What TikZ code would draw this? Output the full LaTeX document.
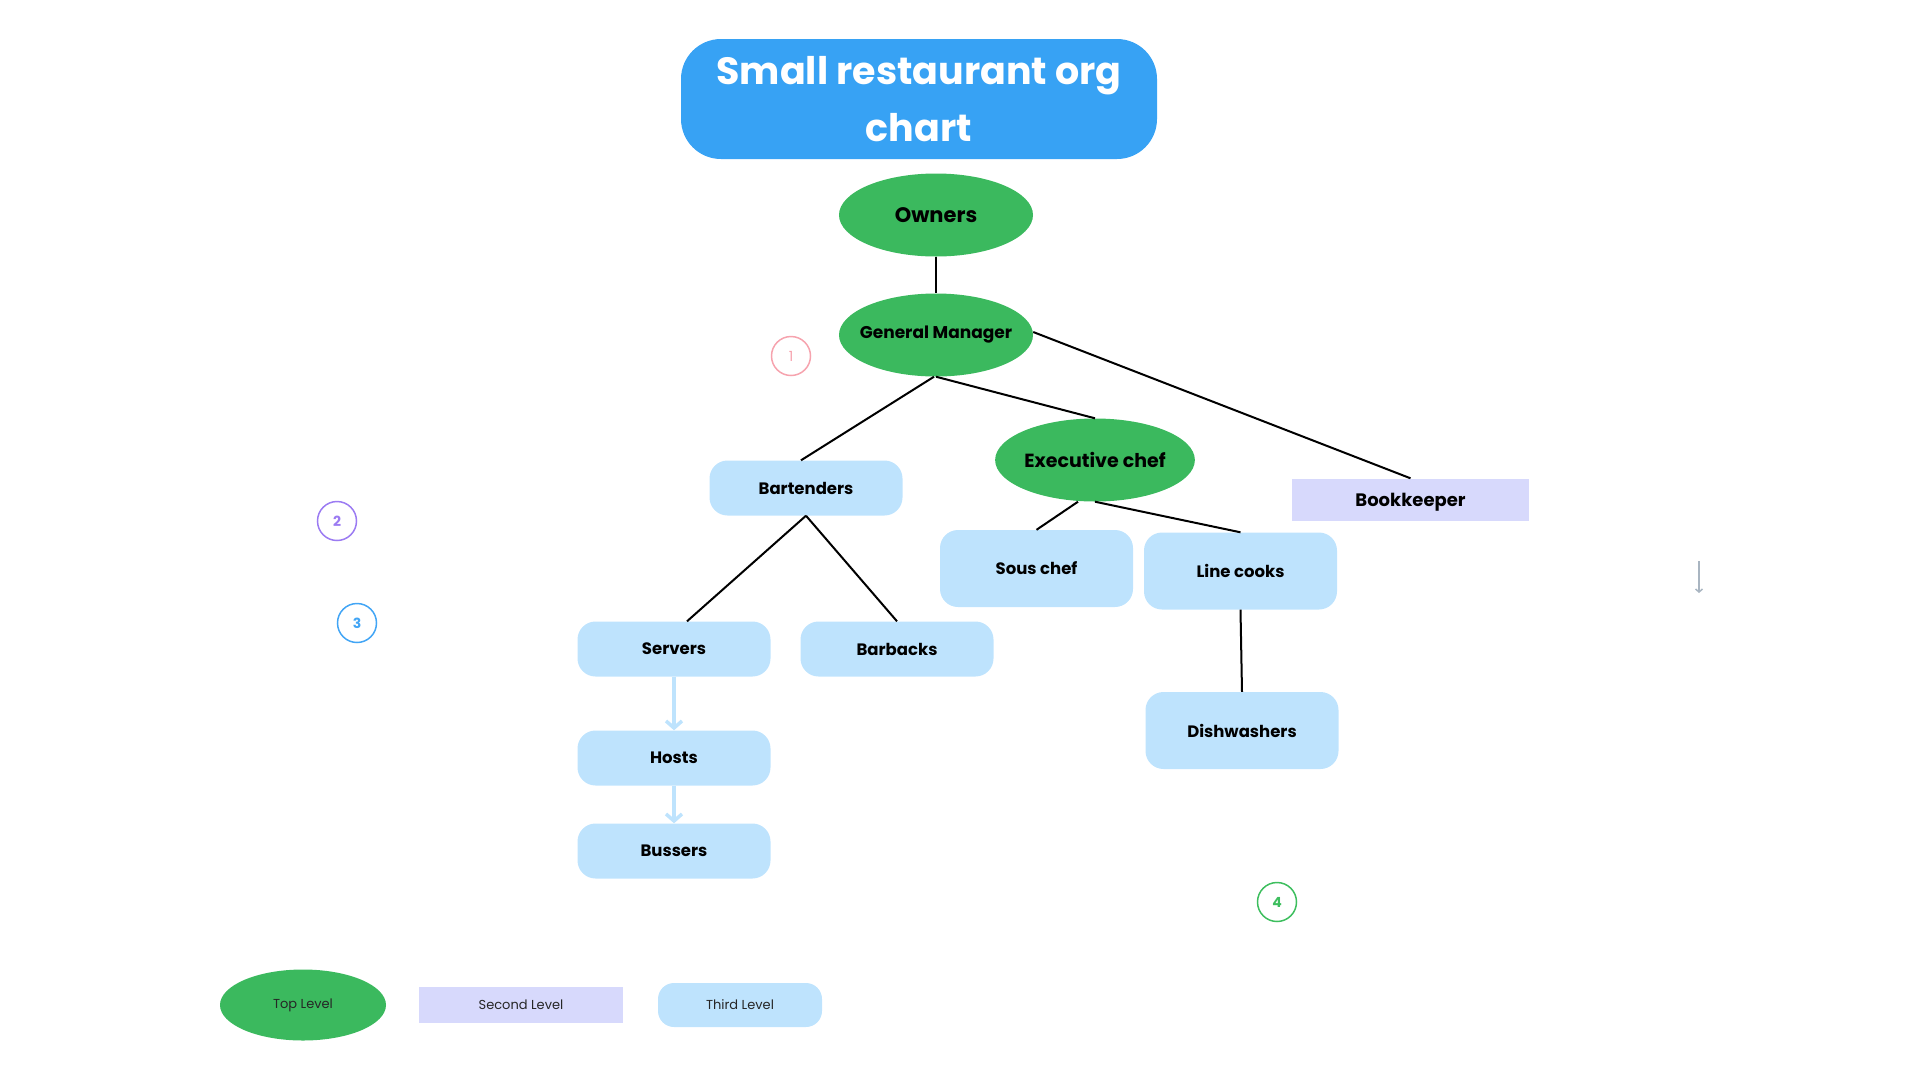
\documentclass[tikz,border=0pt]{standalone}
\usepackage{fontspec}
\setmainfont{Poppins}
\usetikzlibrary{shapes.geometric,arrows.meta}
\definecolor{topgreen}{HTML}{3BB95E}
\definecolor{lightblue}{HTML}{BEE3FD}
\definecolor{lavender}{HTML}{D7D9FC}
\definecolor{titleblue}{HTML}{37A2F4}
\definecolor{cpink}{HTML}{F6A3AE}
\definecolor{cpurple}{HTML}{9B7BF2}
\definecolor{cblue}{HTML}{42A5F5}
\definecolor{cgreen}{HTML}{3DBE5E}
\definecolor{arrowgray}{HTML}{A9B5C1}
\tikzset{
  toplvl/.style={ellipse, fill=topgreen, inner sep=0pt, minimum width=194pt, minimum height=83pt, font=\fontsize{19}{22}\selectfont\bfseries},
  thirdlvl/.style={rectangle, rounded corners=18pt, fill=lightblue, inner sep=0pt, minimum width=193pt, font=\fontsize{16.5}{20}\selectfont\bfseries},
  secondlvl/.style={rectangle, fill=lavender, inner sep=0pt, font=\fontsize{18}{21}\selectfont\bfseries},
  conn/.style={line width=2pt, black},
  flow/.style={line width=3.5pt, lightblue, -{Straight Barb[length=7pt,width=16pt,line width=3.5pt]}},
  numcirc/.style={circle, draw=#1, line width=1.5pt, text=#1, minimum size=39pt, inner sep=0pt, font=\fontsize{14}{16}\selectfont},
  legtext/.style={font=\fontsize{13}{15}\selectfont, text=black!85}
}
\begin{document}
\begin{tikzpicture}[x=1pt,y=-1pt]
\useasboundingbox (0,0) rectangle (1920,1080);
% title
\node[rectangle, rounded corners=40pt, fill=titleblue, minimum width=476pt, minimum height=120pt, inner sep=0pt, text=white, align=center, font=\fontsize{38}{57}\selectfont\bfseries] (title) at (919,99) {Small restaurant org\\chart};
% top level
\node[toplvl, font=\fontsize{21}{24}\selectfont\bfseries] (owners) at (936,215) {Owners};
\node[toplvl, inner xsep=-20pt, font=\fontsize{17}{20}\selectfont\bfseries] (gm) at (936,335) {General Manager};
\node[toplvl] (exec) at (1095,460) {Executive chef};
% second level
\node[secondlvl, minimum width=237pt, minimum height=42pt, text depth=0pt] (book) at (1410.5,499.5) {Bookkeeper};
% third level
\node[thirdlvl, minimum height=55pt] (bart) at (806,488) {Bartenders};
\node[thirdlvl, minimum height=77pt] (sous) at (1036.5,568.5) {Sous chef};
\node[thirdlvl, minimum height=77pt] (line) at (1240.5,571) {Line cooks};
\node[thirdlvl, minimum height=55pt] (serv) at (674,649) {Servers};
\node[thirdlvl, minimum height=55pt] (barb) at (897,649) {Barbacks};
\node[thirdlvl, minimum height=77pt] (dish) at (1242,730.5) {Dishwashers};
\node[thirdlvl, minimum height=55pt] (host) at (674,758) {Hosts};
\node[thirdlvl, minimum height=55pt] (buss) at (674,851) {Bussers};
% connectors
\draw[conn] (owners.south) -- (gm.north);
\draw[conn] ([xshift=-2pt]gm.south) -- ([xshift=-5pt]bart.north);
\draw[conn] (gm.south) -- (exec.north);
\draw[conn] ([yshift=3pt]gm.east) -- (book.north);
\draw[conn] ([xshift=-17pt]exec.south) -- (sous.north);
\draw[conn] (exec.south) -- (line.north);
\draw[conn] (bart.south) -- ([xshift=13pt]serv.north);
\draw[conn] (bart.south) -- (barb.north);
\draw[conn] (line.south) -- (dish.north);
\draw[flow] (serv.south) -- (host.north);
\draw[flow] (host.south) -- (buss.north);
% numbered circles
\node[numcirc=cpink] (c1) at (791,356) {1};
\node[numcirc=cpurple, font=\fontsize{14}{16}\selectfont\bfseries] (c2) at (337,521) {2};
\node[numcirc=cblue, font=\fontsize{14}{16}\selectfont\bfseries] (c3) at (357,623) {3};
\node[numcirc=cgreen, font=\fontsize{14}{16}\selectfont\bfseries] (c4) at (1277,902) {4};
% small arrow
\coordinate (sa) at (1699,561);
\coordinate (sb) at (1699,593);
\draw[arrowgray, line width=1.5pt, -{Straight Barb[length=3pt,width=7pt,line width=1.5pt]}] (sa) -- (sb);
% legend
\node[ellipse, fill=topgreen, inner sep=0pt, minimum width=166pt, minimum height=71pt, legtext] (l1) at (303,1005) {Top Level};
\node[rectangle, fill=lavender, inner sep=0pt, minimum width=204pt, minimum height=36pt, legtext] (l2) at (521,1005) {Second Level};
\node[rectangle, rounded corners=16pt, fill=lightblue, inner sep=0pt, minimum width=164pt, minimum height=44pt, legtext] (l3) at (740,1005) {Third Level};
\end{tikzpicture}
\end{document}
